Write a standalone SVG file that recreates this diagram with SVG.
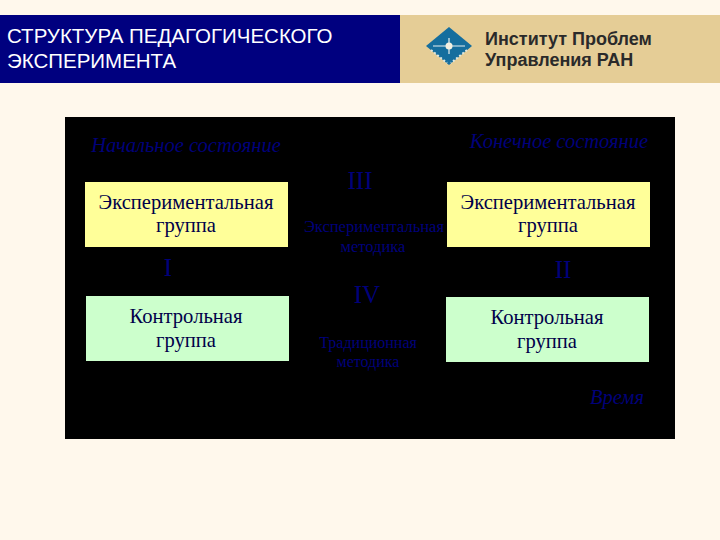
<svg xmlns="http://www.w3.org/2000/svg" width="720" height="540" viewBox="0 0 720 540">
<style>
.h{font-family:"Liberation Sans",Arial,sans-serif;font-size:20.5px}
.o{font-family:"Liberation Sans",Arial,sans-serif;font-size:18px;font-weight:bold;fill:#2a2a2a}
.s{font-family:"Liberation Serif","Times New Roman",serif;fill:#00007a;text-anchor:middle}
.b{font-family:"Liberation Serif","Times New Roman",serif;font-size:20.6px;fill:#00004a;text-anchor:middle}
.y{fill:#ffff99}.g{fill:#ccffcc}
.i{font-style:italic;font-size:20.5px}.r{font-size:25px}.t{font-size:16.5px}
</style>
<rect width="720" height="540" fill="#fff8ec"/>
<rect id="title-bar" x="0" y="15" width="400" height="68" fill="#00007f"/>
<rect id="org-bar" x="400" y="15" width="320" height="68" fill="#e5cd96"/>
<g id="title"><text class="h" x="7" y="43" fill="#fff">СТРУКТУРА ПЕДАГОГИЧЕСКОГО</text><text class="h" x="7" y="68" fill="#fff">ЭКСПЕРИМЕНТА</text></g>
<g id="logo">
<polygon points="449,27 472,46 449,65 426,46" fill="#156e9e"/>
<path d="M433,46H465M449,38V54" stroke="#e8f0f0" stroke-width="1.2" fill="none"/>
<path d="M431,50L447,63M467,50L451,63" stroke="#dfe8e0" stroke-width="2" stroke-dasharray="2 2" fill="none"/>
<circle cx="449" cy="46" r="3.5" fill="#f4f0e0"/>
</g>
<g id="org"><text class="o" x="485" y="45">Институт Проблем</text><text class="o" x="485" y="66">Управления РАН</text></g>
<rect id="panel" x="65" y="117" width="610" height="322" fill="#000"/>
<g id="labels">
<text class="s i" x="186" y="152">Начальное состояние</text>
<text class="s i" x="559" y="148">Конечное состояние</text>
<text class="s r" x="360" y="189">III</text>
<text class="s t" x="374" y="232">Экспериментальная</text>
<text class="s t" x="373" y="252">методика</text>
<text class="s r" x="168" y="276">I</text>
<text class="s r" x="563" y="278">II</text>
<text class="s r" x="367" y="303">IV</text>
<text class="s t" x="368" y="348" style="font-size:16px">Традиционная</text>
<text class="s t" x="368" y="367" style="font-size:16px">методика</text>
<text class="s i" x="617" y="404">Время</text>
</g>
<g id="exp-start"><rect class="y" x="85" y="182" width="203" height="65"/><text class="b" x="186" y="209">Экспериментальная</text><text class="b" x="186" y="232">группа</text></g>
<g id="exp-end"><rect class="y" x="447" y="182" width="203" height="65"/><text class="b" x="548" y="209">Экспериментальная</text><text class="b" x="548" y="232">группа</text></g>
<g id="ctl-start"><rect class="g" x="86" y="296" width="203" height="65"/><text class="b" x="186" y="323">Контрольная</text><text class="b" x="186" y="347">группа</text></g>
<g id="ctl-end"><rect class="g" x="446" y="297" width="203" height="65"/><text class="b" x="547" y="324">Контрольная</text><text class="b" x="547" y="348">группа</text></g>
</svg>
